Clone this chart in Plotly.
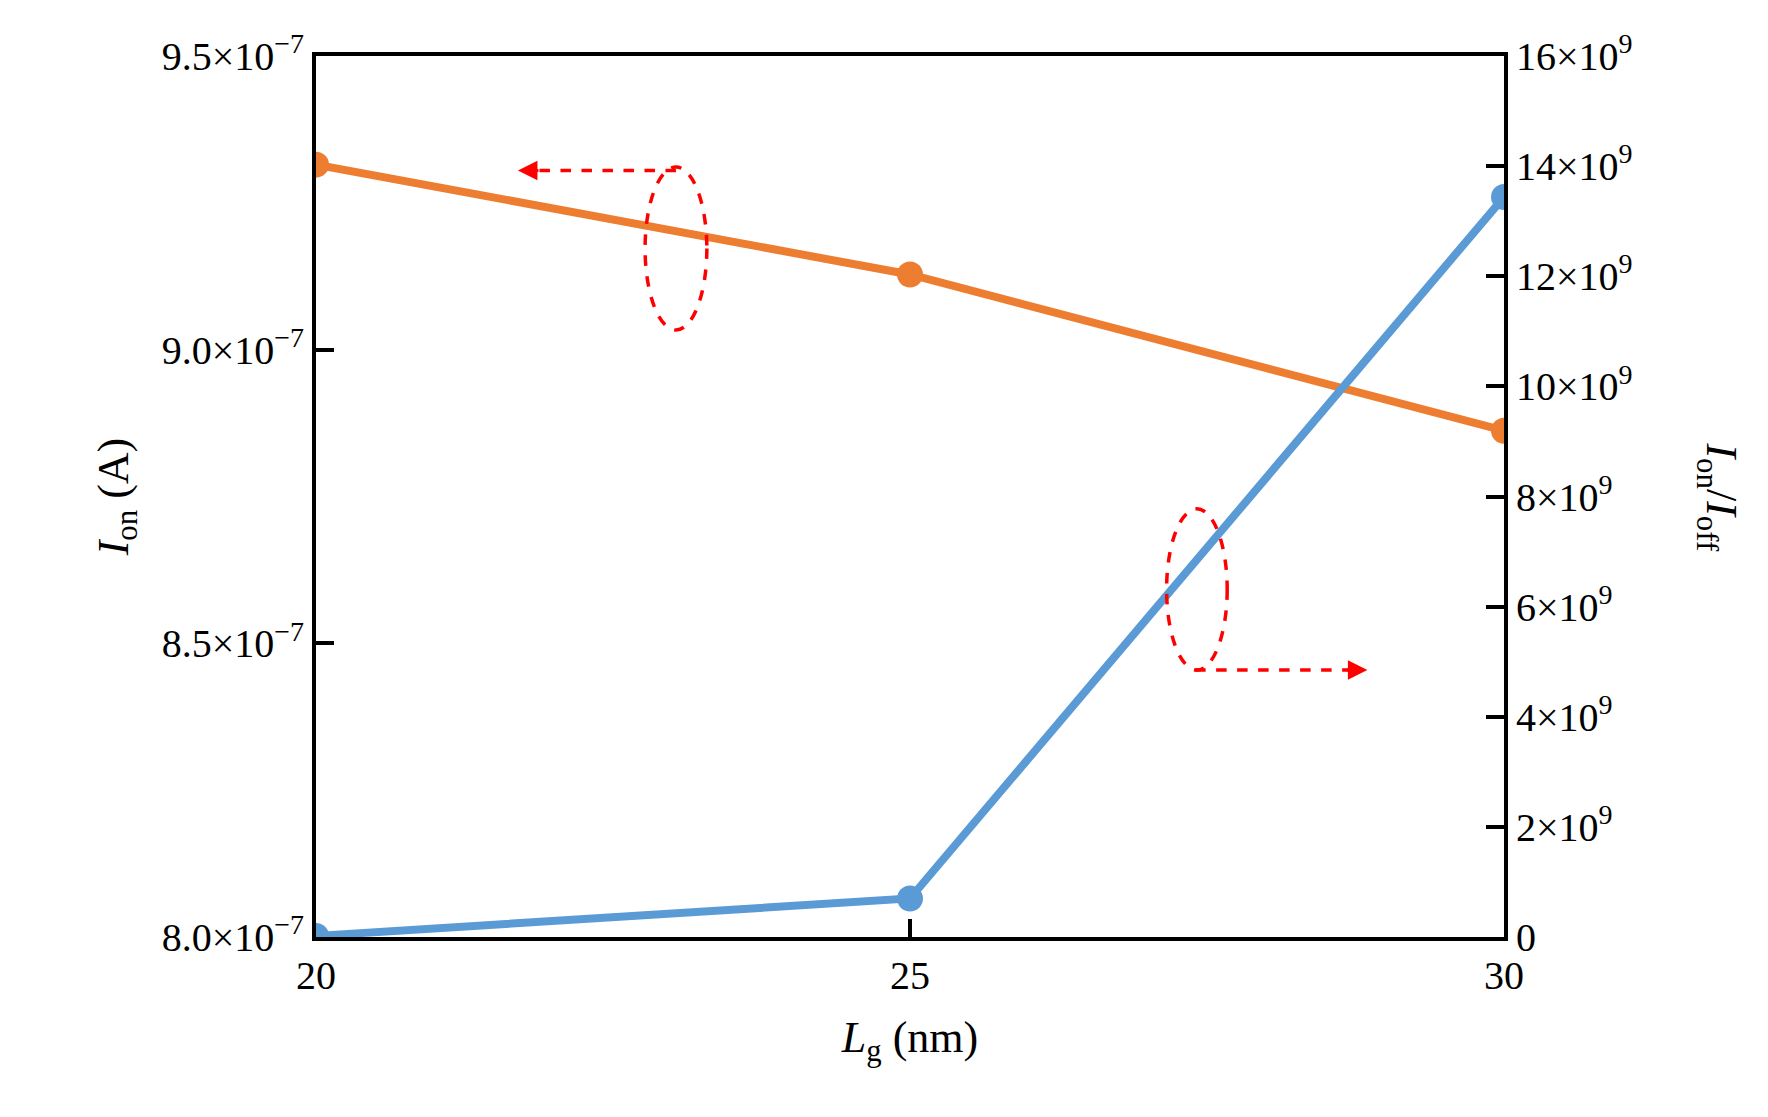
import plotly.graph_objects as go

lg = [20, 25, 30]
ion = [9.315e-7, 9.128e-7, 8.862e-7]
ratio = [0.02e9, 0.7e9, 13.44e9]
left_ticks = [8.0e-7, 8.5e-7, 9.0e-7, 9.5e-7]
left_labels = ["8.0×10<sup>−7</sup>", "8.5×10<sup>−7</sup>", "9.0×10<sup>−7</sup>", "9.5×10<sup>−7</sup>"]
right_ticks = [0, 2e9, 4e9, 6e9, 8e9, 10e9, 12e9, 14e9, 16e9]
right_labels = ["0"] + [f"{v}×10<sup>9</sup>" for v in [2, 4, 6, 8, 10, 12, 14, 16]]

F = "Liberation Serif"
orange = "#ED7D31"
blue = "#5B9BD5"

fig = go.Figure()
fig.add_trace(go.Scatter(x=lg, y=ion, mode="lines+markers", line=dict(color=orange, width=8),
                         marker=dict(size=26, color=orange), yaxis="y", showlegend=False))
fig.add_trace(go.Scatter(x=lg, y=ratio, mode="lines+markers", line=dict(color=blue, width=8),
                         marker=dict(size=26, color=blue), yaxis="y2", showlegend=False))

ax = dict(showgrid=False, zeroline=False, linecolor="black", linewidth=4, ticks="inside",
          ticklen=18, tickwidth=4, tickcolor="black", tickfont=dict(family=F, size=40, color="black"))
fig.update_layout(
    width=1768, height=1117, plot_bgcolor="white", paper_bgcolor="white",
    margin=dict(l=308, r=272, t=48, b=188),
    xaxis=dict(**ax, range=[20, 30], tickvals=lg, mirror=True,
               title=dict(text="<i>L</i><sub>g</sub> (nm)", font=dict(family=F, size=44, color="black"), standoff=25)),
    yaxis=dict(**ax, range=[8.0e-7, 9.5e-7], tickvals=left_ticks, ticktext=left_labels,
               title=dict(text="<i>I</i><sub>on</sub> (A)", font=dict(family=F, size=44, color="black"), standoff=20)),
    yaxis2=dict(**ax, range=[0, 16e9], tickvals=right_ticks, ticktext=right_labels,
                overlaying="y", side="right"),
)
fig.add_annotation(text="<i>I</i><sub>on</sub>/<i>I</i><sub>off</sub>", xref="paper", yref="paper",
                   x=1.205, y=0.5, textangle=90, showarrow=False, font=dict(family=F, size=44, color="black"))

red = dict(color="red", width=3.5, dash="dash")
fig.add_shape(type="circle", xref="paper", yref="paper", x0=0.277, x1=0.329, y0=0.689, y1=0.874, line=red)
fig.add_shape(type="line", xref="paper", yref="paper", x0=0.303, x1=0.175, y0=0.870, y1=0.870, line=red)
fig.add_annotation(xref="paper", yref="paper", x=0.170, y=0.870,
                   ax=22, ay=0, text="", showarrow=True, arrowhead=2, arrowsize=1.3,
                   arrowwidth=3, arrowcolor="red")
fig.add_shape(type="circle", xref="paper", yref="paper", x0=0.716, x1=0.767, y0=0.303, y1=0.486, line=red)
fig.add_shape(type="line", xref="paper", yref="paper", x0=0.740, x1=0.880, y0=0.303, y1=0.303, line=red)
fig.add_annotation(xref="paper", yref="paper", x=0.885, y=0.303,
                   ax=-22, ay=0, text="", showarrow=True, arrowhead=2, arrowsize=1.3,
                   arrowwidth=3, arrowcolor="red")

fig.write_html("out.html")
